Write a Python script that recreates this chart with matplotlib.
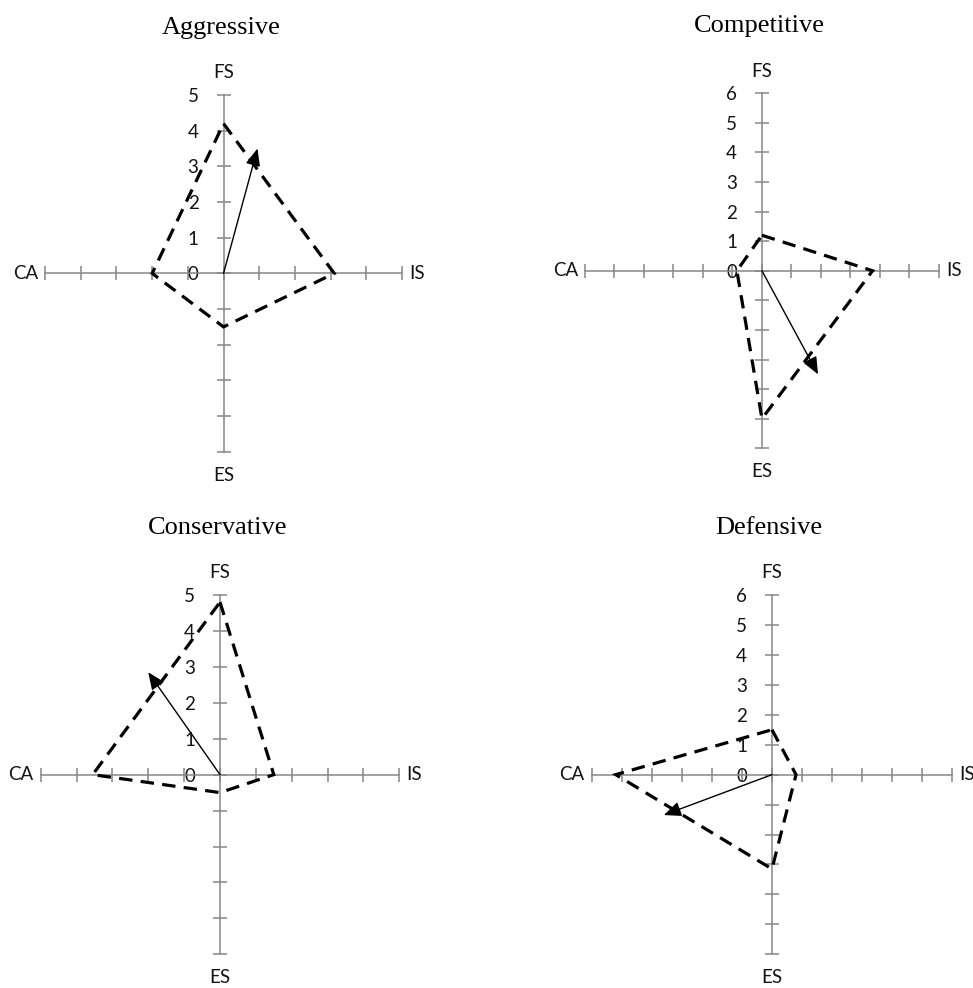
import matplotlib
matplotlib.use("Agg")
import matplotlib.pyplot as plt

# Four strategy quadrants: FS (up), IS (right), ES (down), CA (left)
TITLES = ['Aggressive', 'Competitive', 'Conservative', 'Defensive']
AXIS_MAX = [5, 6, 5, 6]
FS = [4.2, 1.2, 4.8, 1.5]
IS = [3.1, 3.75, 1.5, 0.8]
ES = [1.5, 5.0, 0.5, 3.15]
CA = [2.0, 0.85, 3.55, 5.2]
ARROW_X = [0.95, 1.9, -2.0, -3.6]
ARROW_Y = [3.5, -3.5, 2.85, -1.35]

# axes rectangles in figure fraction (left, bottom, width, height)
BOXES = [
    (0.0463, 0.5428, 0.3669, 0.3610),
    (0.6012, 0.5463, 0.3638, 0.3593),
    (0.0418, 0.0341, 0.3686, 0.3637),
    (0.6081, 0.0341, 0.3706, 0.3637),
]

GREY = '#868686'
TEXT = '#141414'
LABEL_FONT = 'Lato'
TITLE_FONT = 'Liberation Serif'
LABEL_SIZE = 13.5

fig = plt.figure(figsize=(9.73, 9.88), dpi=100)

for k, title in enumerate(TITLES):
    m = AXIS_MAX[k]
    ax = fig.add_axes(BOXES[k])
    ax.set_xlim(-m, m)
    ax.set_ylim(-m, m)
    ax.patch.set_visible(False)

    for side in ('top', 'right'):
        ax.spines[side].set_visible(False)
    for side in ('left', 'bottom'):
        ax.spines[side].set_position('zero')
        ax.spines[side].set_color(GREY)
        ax.spines[side].set_linewidth(1.1)

    ticks = list(range(-m, m + 1))
    ax.set_xticks(ticks)
    ax.set_yticks(ticks)
    ax.set_xticklabels([''] * len(ticks))
    ax.set_yticklabels([str(t) if t >= 0 else '' for t in ticks],
                       fontfamily=LABEL_FONT, fontsize=LABEL_SIZE, color=TEXT)
    ax.tick_params(direction='inout', length=10, width=1.1, color=GREY)
    ax.tick_params(axis='y', pad=13)

    # strategy polygon
    px = [0, IS[k], 0, -CA[k], 0]
    py = [FS[k], 0, -ES[k], 0, FS[k]]
    ax.plot(px, py, color='black', linewidth=2.3, linestyle=(0, (4.2, 2.6)),
            solid_joinstyle='miter', dash_joinstyle='miter', zorder=3)

    # resulting direction vector
    ax.annotate('', xy=(ARROW_X[k], ARROW_Y[k]), xytext=(0, 0),
                arrowprops=dict(arrowstyle='-|>,head_length=0.7,head_width=0.3',
                                color='black', lw=1.0, shrinkA=0, shrinkB=0,
                                mutation_scale=15),
                zorder=4)

    lab = dict(fontfamily=LABEL_FONT, fontsize=LABEL_SIZE, color=TEXT,
               textcoords='offset points', annotation_clip=False)
    ax.annotate('FS', xy=(0, m), xytext=(0, 16), ha='center', va='center', **lab)
    ax.annotate('ES', xy=(0, -m), xytext=(0, -17), ha='center', va='center', **lab)
    ax.annotate('CA', xy=(-m, 0), xytext=(-5, 0), ha='right', va='center', **lab)
    ax.annotate('IS', xy=(m, 0), xytext=(5, 0), ha='left', va='center', **lab)

    ax.annotate(title, xy=(0.5, 1.0), xycoords='axes fraction',
                xytext=(-2, 44), textcoords='offset points',
                ha='center', va='baseline', fontfamily=TITLE_FONT,
                fontsize=19, color='black', annotation_clip=False)

fig.savefig('out.png', dpi=100)
